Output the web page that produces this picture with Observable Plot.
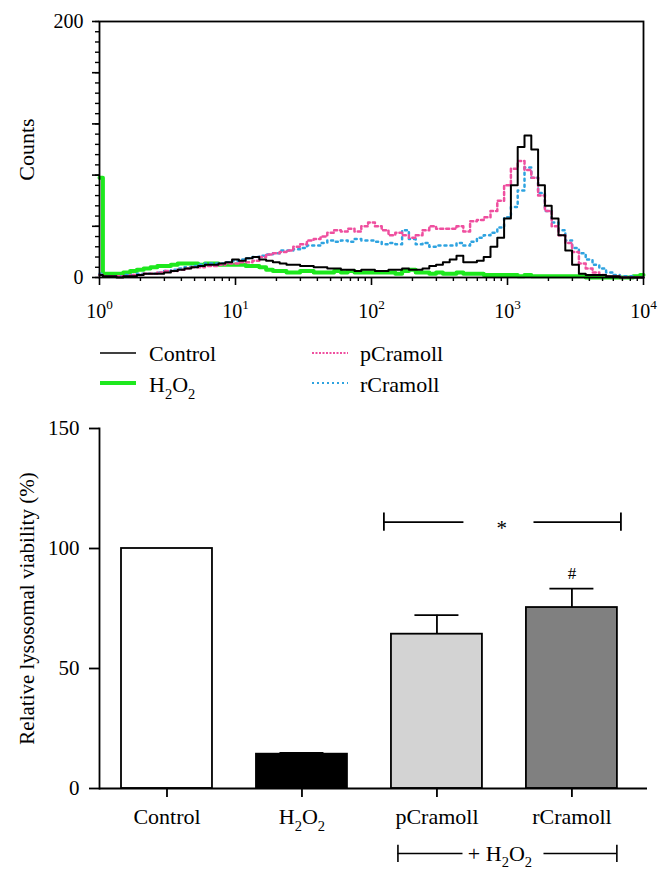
<!DOCTYPE html>
<html>
<head>
<meta charset="utf-8">
<script src="https://cdn.jsdelivr.net/npm/d3@7"></script>
<script src="https://cdn.jsdelivr.net/npm/@observablehq/plot@0.6"></script>
<style>
  html, body { margin: 0; padding: 0; background: #fff; }
  #wrap { position: relative; width: 670px; height: 877px; overflow: hidden; font-family: "Liberation Serif", serif; }
  #wrap svg { position: absolute; left: 0; }
  #wrap svg text { font-family: "Liberation Serif", serif; }
</style>
</head>
<body>
<div id="wrap"></div>
<script>
// ---------------- Top panel: flow cytometry histogram ----------------
// channels every 0.05 decade from 10^0 to 10^4 (81 channels)
const channelDecades = d3.range(0, 81).map(i => i * 0.05);

const controlCounts = [
  2,1,1,0,1,1,2,3,3,3,
  4,5,6,7,8,9,10,10,11,12,
  14,13,15,16,14,13,12,11,10,10,
  9,9,8,8,7,7,6,6,5,6,
  6,5,5,6,6,7,6,6,7,9,
  10,12,14,17,12,12,13,16,24,31,
  46,72,102,111,100,72,56,46,33,21,
  10,3,2,2,2,1,1,0,0,0,
  0];

const h2o2Counts = [
  78,3,3,3,4,5,6,7,8,9,
  9,10,11,11,11,10,11,11,10,10,
  10,10,9,9,8,6,5,5,4,4,
  5,5,4,4,4,5,4,5,4,4,
  4,4,4,4,3,5,6,4,4,3,
  4,3,3,4,3,3,3,2,2,2,
  2,2,1,2,1,1,1,1,1,1,
  1,1,0,0,0,0,0,0,0,1,
  2];

const pCramollCounts = [
  2,1,1,1,1,2,2,3,3,4,
  5,5,6,7,8,8,9,9,10,11,
  11,12,12,13,16,18,19,20,21,24,
  26,29,30,32,35,37,36,38,36,40,
  43,40,37,33,35,33,31,33,37,40,
  38,38,38,40,36,44,45,47,52,60,
  72,85,91,84,78,64,52,40,33,27,
  20,11,7,4,2,1,1,0,0,0,
  0];

const rCramollCounts = [
  3,1,1,1,2,2,3,3,3,4,
  5,6,7,8,9,10,11,11,11,12,
  13,14,15,16,17,18,19,21,21,22,
  23,25,25,27,29,28,29,28,30,29,
  29,28,26,27,26,37,30,26,27,24,
  25,25,25,27,25,28,31,33,35,39,
  47,55,68,86,78,66,52,43,37,29,
  23,19,14,10,7,4,2,1,1,0,
  0];

const seriesNames = ["Control", "H2O2", "pCramoll", "rCramoll"];
const xTickValues = [1, 10, 100, 1000, 10000];
const xTickLabels = ["10^0", "10^1", "10^2", "10^3", "10^4"];
const countTickLabels = [0, 200];

// ---------------- Bottom panel: bar chart ----------------
const groups = ["Control", "H2O2", "pCramoll", "rCramoll"];
const viability = [100, 14.3, 64.3, 75.4];
const viabilityErr = [0, 0.5, 7.9, 7.9];
const yTicks = [0, 50, 100, 150];
const bracketLabel = "+ H2O2";
const starLabel = "*";
const hashLabel = "#";

// ---------------- build tables ----------------
function toRows(name, counts) {
  return counts.map((c, i) => ({series: name, x: 10 ** channelDecades[i], count: c}));
}
const hist = {
  Control: toRows("Control", controlCounts),
  H2O2: toRows("H2O2", h2o2Counts),
  pCramoll: toRows("pCramoll", pCramollCounts),
  rCramoll: toRows("rCramoll", rCramollCounts)
};
const bars = groups.map((g, i) => ({group: g, i, value: viability[i], err: viabilityErr[i]}));

const COLORS = {Control: "#000000", H2O2: "#1ee81e", pCramoll: "#ef4f9f", rCramoll: "#2ea3e0"};
const FONT = '"Liberation Serif", serif';

const minorX = [];
for (const d of [1, 10, 100, 1000]) for (let m = 2; m <= 9; m++) minorX.push(d * m);

const topPlot = Plot.plot({
  width: 670, height: 330,
  marginLeft: 99, marginRight: 27, marginTop: 21, marginBottom: 53,
  style: {fontFamily: FONT, background: "none", color: "#000", overflow: "visible"},
  x: {type: "log", domain: [1, 10000]},
  y: {domain: [0, 200]},
  marks: [
    Plot.line(hist.H2O2, {x: "x", y: "count", curve: "step", stroke: COLORS.H2O2, strokeWidth: 4}),
    Plot.line(hist.rCramoll, {x: "x", y: "count", curve: "step", stroke: COLORS.rCramoll, strokeWidth: 2.5, strokeDasharray: "2,4"}),
    Plot.line(hist.pCramoll, {x: "x", y: "count", curve: "step", stroke: COLORS.pCramoll, strokeWidth: 2.5, strokeDasharray: "3,3"}),
    Plot.line(hist.Control, {x: "x", y: "count", curve: "step", stroke: COLORS.Control, strokeWidth: 2}),
    Plot.frame({stroke: "#000", strokeWidth: 1.8}),
    Plot.axisY({ticks: d3.range(0, 201, 8), tickSize: 4, tickFormat: () => "", label: null, strokeWidth: 1.4}),
    Plot.axisY({ticks: d3.range(0, 201, 40), tickSize: 7, tickPadding: 9, fontSize: 20, label: null, strokeWidth: 1.6,
      tickFormat: d => countTickLabels.includes(d) ? String(d) : ""}),
    Plot.axisX({ticks: minorX, tickSize: 4, tickFormat: () => "", label: null, strokeWidth: 1.4}),
    Plot.axisX({ticks: xTickValues, tickSize: 8, tickPadding: 18, fontSize: 20, label: null, strokeWidth: 1.6,
      tickFormat: d => xTickLabels[xTickValues.indexOf(d)]}),
    Plot.text(["Counts"], {frameAnchor: "left", textAnchor: "middle", rotate: -90, dx: -73, fontSize: 22, fill: "#000"})
  ]
});
topPlot.style.top = "0px";

const botPlot = Plot.plot({
  width: 670, height: 482,
  marginLeft: 99, marginRight: 23, marginTop: 33, marginBottom: 89,
  style: {fontFamily: FONT, background: "none", color: "#000", overflow: "visible"},
  x: {domain: [-0.5, 3.56]},
  y: {domain: [0, 150]},
  color: {domain: groups, range: ["#ffffff", "#000000", "#d3d3d3", "#808080"]},
  marks: [
    Plot.rectY(bars, {x1: d => d.i - 0.337, x2: d => d.i + 0.337, y1: 0, y2: "value", fill: "group", stroke: "#000", strokeWidth: 1.8}),
    Plot.ruleX(bars.filter(d => d.err > 0), {x: "i", y1: "value", y2: d => d.value + d.err, stroke: "#000", strokeWidth: 1.8}),
    Plot.ruleY(bars.filter(d => d.err > 0), {y: d => d.value + d.err, x1: d => d.i - 0.163, x2: d => d.i + 0.163, stroke: "#000", strokeWidth: 1.8}),
    Plot.ruleY([0], {stroke: "#000", strokeWidth: 1.8}),
    Plot.frame({anchor: "left", stroke: "#000", strokeWidth: 1.8}),
    Plot.axisY({ticks: yTicks, tickSize: 10, tickPadding: 10, fontSize: 21, label: null, strokeWidth: 1.8}),
    Plot.axisX({ticks: [0, 1, 2, 3], tickFormat: i => groups[i], tickSize: 9, tickPadding: 11, fontSize: 22, label: null, strokeWidth: 1.8}),
    Plot.text(["Relative lysosomal viability (%)"], {frameAnchor: "left", textAnchor: "middle", rotate: -90, dx: -72, fontSize: 21, fill: "#000"}),
    // significance bracket (*)
    Plot.ruleY([111], {x1: 1.607, x2: 2.2, stroke: "#000", strokeWidth: 1.8}),
    Plot.ruleY([111], {x1: 2.719, x2: 3.363, stroke: "#000", strokeWidth: 1.8}),
    Plot.ruleX([1.607, 3.363], {y1: 107.2, y2: 114.8, stroke: "#000", strokeWidth: 1.8}),
    Plot.text([starLabel], {x: 2.48, y: 111, dy: 6, fontSize: 21, fill: "#000"}),
    Plot.text([hashLabel], {x: 3, y: 89.6, fontSize: 17, fill: "#000"}),
    // + H2O2 bracket below categories
    Plot.ruleY([-27.1], {x1: 1.711, x2: 2.193, stroke: "#000", strokeWidth: 1.6}),
    Plot.ruleY([-27.1], {x1: 2.793, x2: 3.333, stroke: "#000", strokeWidth: 1.6}),
    Plot.ruleX([1.711, 3.333], {y1: -23.6, y2: -30.8, stroke: "#000", strokeWidth: 1.6}),
    Plot.text([bracketLabel], {x: 2.467, y: -27.1, fontSize: 22, fill: "#000"})
  ]
});
botPlot.style.top = "395px";

// ---------------- legend ----------------
const ns = "http://www.w3.org/2000/svg";
const leg = document.createElementNS(ns, "svg");
leg.setAttribute("width", 670); leg.setAttribute("height", 75);
leg.style.top = "335px";
leg.setAttribute("font-family", FONT);
leg.setAttribute("font-size", 22);
const legendLayout = [
  {name: seriesNames[0], lx: 100, tx: 149, ly: 18, ty: 26, w: 1.6, dash: null},
  {name: seriesNames[1], lx: 100, tx: 149, ly: 48, ty: 57, w: 4, dash: null},
  {name: seriesNames[2], lx: 312, tx: 360, ly: 18, ty: 26, w: 2, dash: "2,1.5"},
  {name: seriesNames[3], lx: 312, tx: 360, ly: 48, ty: 57, w: 2.2, dash: "2,3"}
];
for (const L of legendLayout) {
  const ln = document.createElementNS(ns, "line");
  ln.setAttribute("x1", L.lx); ln.setAttribute("x2", L.lx + 36);
  ln.setAttribute("y1", L.ly); ln.setAttribute("y2", L.ly);
  ln.setAttribute("stroke", COLORS[L.name]); ln.setAttribute("stroke-width", L.w);
  if (L.dash) ln.setAttribute("stroke-dasharray", L.dash);
  leg.appendChild(ln);
  const tx = document.createElementNS(ns, "text");
  tx.setAttribute("x", L.tx); tx.setAttribute("y", L.ty);
  tx.textContent = L.name;
  leg.appendChild(tx);
}

const wrap = document.getElementById("wrap");
wrap.appendChild(topPlot);
wrap.appendChild(botPlot);
wrap.appendChild(leg);

// ---------------- typographic post-processing ----------------
function fontSizeOf(t) { return parseFloat(getComputedStyle(t).fontSize) || 20; }
function superscripts(root) {
  root.querySelectorAll("text").forEach(t => {
    if (t.children.length) return;
    const m = t.textContent.match(/^10\^(\d)$/);
    if (!m) return;
    const fs = fontSizeOf(t);
    t.textContent = "10";
    const sup = document.createElementNS(ns, "tspan");
    sup.setAttribute("dy", -0.42 * fs);
    sup.setAttribute("font-size", 0.66 * fs);
    sup.textContent = m[1];
    t.appendChild(sup);
  });
}
function subscripts(root) {
  root.querySelectorAll("text").forEach(t => {
    if (t.children.length || !t.textContent.includes("H2O2")) return;
    const fs = fontSizeOf(t);
    const d = 0.3 * fs;
    const [before, after] = t.textContent.split("H2O2");
    t.textContent = "";
    const parts = [[before + "H", 0, false], ["2", d, true], ["O", -d, false], ["2", d, true]];
    if (after) parts.push([after, -d, false]);
    for (const [s, dy, small] of parts) {
      const ts = document.createElementNS(ns, "tspan");
      ts.textContent = s;
      if (dy) ts.setAttribute("dy", dy);
      if (small) ts.setAttribute("font-size", 0.66 * fs);
      t.appendChild(ts);
    }
  });
}
superscripts(topPlot);
subscripts(botPlot);
subscripts(leg);
</script>
</body>
</html>
